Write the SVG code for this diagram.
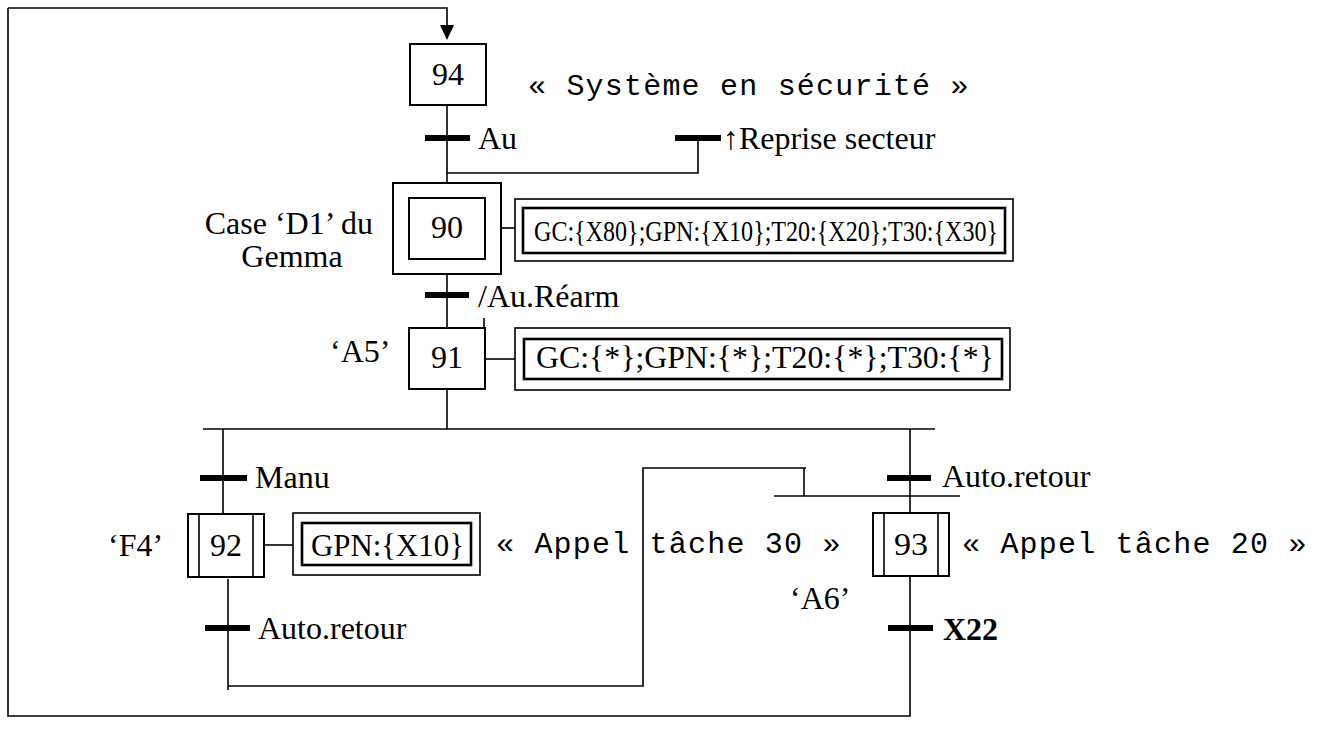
<svg xmlns="http://www.w3.org/2000/svg" width="1322" height="745" viewBox="0 0 1322 745">
<style>
.ln{fill:none;stroke:#000;stroke-width:1.6}
.bx{fill:#fff;stroke:#000;stroke-width:2}
.ob{fill:#fff;stroke:#000;stroke-width:1.6}
.ib{fill:none;stroke:#000;stroke-width:2.6}
.tr{fill:#000}
.t{font-family:"Liberation Serif","Times New Roman",serif;font-size:32px;fill:#000}
.m{font-family:"Liberation Mono","Courier New",monospace;font-size:30px;letter-spacing:1.2px;fill:#000}
.c{text-anchor:middle}
.e{text-anchor:end}
.b{font-weight:bold}
</style>
<rect width="1322" height="745" fill="#fff"/>
<g id="connectors" class="ln">
  <path d="M8,8 H447 V30"/>
  <path d="M8,8 V716 H910 V577"/>
  <path d="M447,105 V183"/>
  <path d="M447,173 H698 V138"/>
  <path d="M447,274 V328"/>
  <path d="M484,318 V328"/>
  <path d="M447,389 V429"/>
  <path d="M203,429 H935"/>
  <path d="M223,429 V514"/>
  <path d="M228,579 V690"/>
  <path d="M228,686 H643 V468 H806"/>
  <path d="M804,468 V496"/>
  <path d="M774,496 H960"/>
  <path d="M910,429 V513"/>
  <path d="M501,228 H515"/>
  <path d="M485,359 H515"/>
  <path d="M264,545 H293"/>
  <polygon points="440,25 454,25 447,40" fill="#000" stroke="none"/>
</g>
<g id="transitions">
  <g id="t-au"><rect class="tr" x="425" y="135" width="45" height="6"/><text class="t" x="478" y="149">Au</text></g>
  <g id="t-reprise"><rect class="tr" x="675" y="135" width="46" height="6"/><text class="t" x="723" y="149">↑Reprise secteur</text></g>
  <g id="t-rearm"><rect class="tr" x="425" y="292" width="44" height="6"/><text class="t" x="478" y="307">/Au.Réarm</text></g>
  <g id="t-manu"><rect class="tr" x="200" y="475" width="47" height="6"/><text class="t" x="255" y="488">Manu</text></g>
  <g id="t-auto-left"><rect class="tr" x="205" y="625" width="45" height="6"/><text class="t" x="258" y="639">Auto.retour</text></g>
  <g id="t-auto-right"><rect class="tr" x="887" y="475" width="44" height="6"/><text class="t" x="942" y="487">Auto.retour</text></g>
  <g id="t-x22"><rect class="tr" x="888" y="625" width="45" height="6"/><text class="t b" x="943" y="640">X22</text></g>
</g>
<g id="step94">
  <rect class="bx" x="410" y="44" width="76" height="61"/>
  <text class="t c" x="448" y="85">94</text>
  <text class="m" x="528" y="95">« Système en sécurité »</text>
</g>
<g id="step90">
  <rect class="bx" x="393" y="183" width="108" height="91"/>
  <rect class="bx" x="409" y="198" width="76" height="61"/>
  <text class="t c" x="447" y="238">90</text>
  <text class="t e" x="373" y="234">Case ‘D1’ du</text>
  <text class="t c" x="292" y="267">Gemma</text>
</g>
<g id="action90">
  <rect class="ob" x="515" y="199" width="498" height="62"/>
  <rect class="ib" x="523" y="208" width="482" height="45"/>
  <text class="t" x="534" y="241" style="font-size:29px" textLength="464" lengthAdjust="spacingAndGlyphs">GC:{X80};GPN:{X10};T20:{X20};T30:{X30}</text>
</g>
<g id="step91">
  <rect class="bx" x="409" y="328" width="76" height="61"/>
  <text class="t c" x="447" y="368">91</text>
  <text class="t" x="330" y="362">‘A5’</text>
</g>
<g id="action91">
  <rect class="ob" x="515" y="328" width="495" height="62"/>
  <rect class="ib" x="524" y="339" width="478" height="40"/>
  <text class="t" x="536" y="368" textLength="458" lengthAdjust="spacingAndGlyphs">GC:{*};GPN:{*};T20:{*};T30:{*}</text>
</g>
<g id="step92">
  <rect class="bx" x="188" y="514" width="76" height="63"/>
  <path class="ln" d="M199,514 V578 M253,514 V578"/>
  <text class="t c" x="226" y="556">92</text>
  <text class="t" x="108" y="556">‘F4’</text>
</g>
<g id="action92">
  <rect class="ob" x="293" y="513" width="187" height="62"/>
  <rect class="ib" x="302" y="523" width="169" height="42"/>
  <text class="t" x="311" y="556" textLength="153" lengthAdjust="spacingAndGlyphs">GPN:{X10}</text>
  <text class="m" x="496" y="553">« Appel tâche 30 »</text>
</g>
<g id="step93">
  <rect class="bx" x="873" y="513" width="76" height="63"/>
  <path class="ln" d="M884,513 V577 M938,513 V577"/>
  <text class="t c" x="911" y="555" textLength="34" lengthAdjust="spacingAndGlyphs">93</text>
  <text class="t" x="790" y="609">‘A6’</text>
  <text class="m" x="962" y="553">« Appel tâche 20 »</text>
</g>
</svg>
